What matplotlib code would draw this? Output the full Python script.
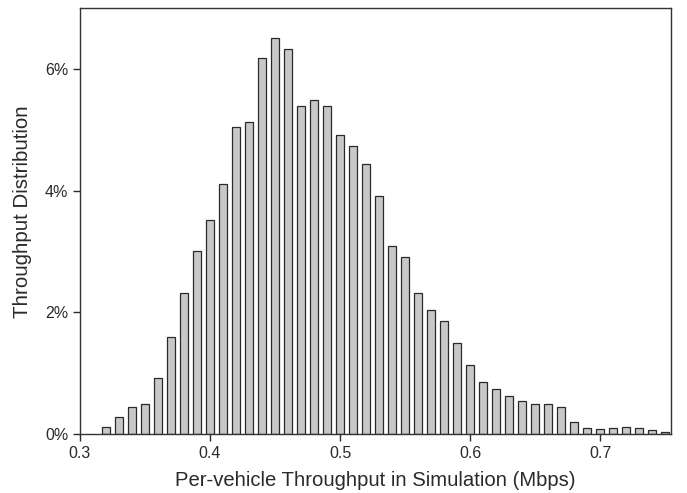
import matplotlib
matplotlib.use('Agg')
import matplotlib.pyplot as plt
from matplotlib.ticker import FuncFormatter

plt.rcParams['font.family'] = ['Liberation Sans', 'DejaVu Sans']

# bin centres (Mbps) and share of vehicles (%)
throughput = [0.32, 0.33, 0.34, 0.35, 0.36, 0.37, 0.38, 0.39, 0.40, 0.41,
              0.42, 0.43, 0.44, 0.45, 0.46, 0.47, 0.48, 0.49, 0.50, 0.51,
              0.52, 0.53, 0.54, 0.55, 0.56, 0.57, 0.58, 0.59, 0.60, 0.61,
              0.62, 0.63, 0.64, 0.65, 0.66, 0.67, 0.68, 0.69, 0.70, 0.71,
              0.72, 0.73, 0.74, 0.75]
share = [0.12, 0.28, 0.45, 0.49, 0.92, 1.60, 2.32, 3.00, 3.52, 4.11,
         5.05, 5.13, 6.17, 6.51, 6.33, 5.39, 5.49, 5.39, 4.91, 4.73,
         4.44, 3.91, 3.09, 2.91, 2.32, 2.04, 1.86, 1.49, 1.13, 0.86,
         0.74, 0.63, 0.55, 0.49, 0.49, 0.45, 0.19, 0.10, 0.08, 0.10,
         0.12, 0.10, 0.06, 0.04]

fig = plt.figure(figsize=(6.87, 4.93), dpi=100)
ax = fig.add_axes([0.1164, 0.1197, 0.8603, 0.8641])

ax.bar(throughput, share, width=0.0062, color='#c8c8c8',
       edgecolor='#2a2a2a', linewidth=0.9)

ax.set_xlim(0.3, 0.7545)
ax.set_ylim(0, 7)
ax.set_xticks([0.3, 0.4, 0.5, 0.6, 0.7])
ax.set_yticks([0, 2, 4, 6])
ax.yaxis.set_major_formatter(FuncFormatter(lambda v, p: '%d%%' % v))
ax.tick_params(direction='out', length=5, width=1, labelsize=11.5,
               colors='#2a2a2a')
for s in ax.spines.values():
    s.set_color('#333333')
    s.set_linewidth(1)

ax.set_xlabel('Per-vehicle Throughput in Simulation (Mbps)', fontsize=14.6,
              color='#2a2a2a', labelpad=7)
ax.set_ylabel('Throughput Distribution', fontsize=14.8, color='#2a2a2a')
ax.yaxis.set_label_coords(-0.082, 0.522)

fig.savefig('out.png', dpi=100)
